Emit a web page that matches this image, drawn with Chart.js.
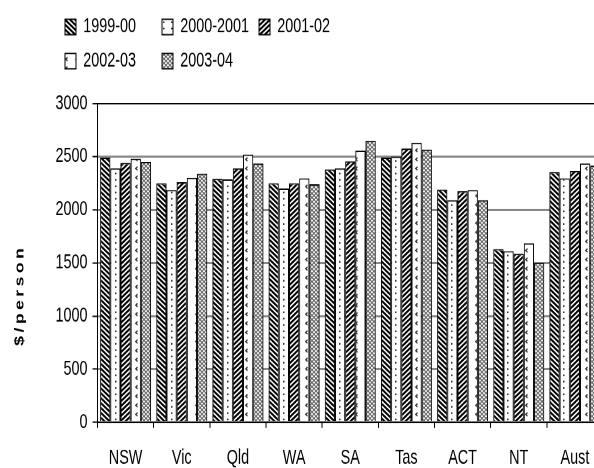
<!DOCTYPE html>
<html>
<head>
<meta charset="utf-8">
<script src="https://cdn.jsdelivr.net/npm/chart.js@4/dist/chart.umd.min.js"></script>
<style>
  html, body { margin: 0; padding: 0; overflow: hidden; background: #fff; }
</style>
</head>
<body>
<!-- the original picture is stretched vertically, so draw short and stretch -->
<canvas id="chart" width="604" height="334" style="width:604px;height:468px;display:block"></canvas>
<script>
// categories and series
const regions = ['NSW', 'Vic', 'Qld', 'WA', 'SA', 'Tas', 'ACT', 'NT', 'Aust'];
const seriesNames = ['1999-00', '2000-2001', '2001-02', '2002-03', '2003-04'];
const v1999 = [2490, 2250, 2290, 2250, 2380, 2490, 2190, 1630, 2355];
const v2000 = [2390, 2185, 2285, 2200, 2390, 2500, 2090, 1610, 2295];
const v2001 = [2440, 2260, 2390, 2250, 2455, 2575, 2175, 1585, 2365];
const v2002 = [2480, 2300, 2520, 2295, 2555, 2630, 2185, 1685, 2435];
const v2003 = [2450, 2340, 2435, 2240, 2650, 2565, 2090, 1500, 2415];
const yTicks = [0, 500, 1000, 1500, 2000, 2500, 3000];

const FONT = "'Liberation Sans', Arial, sans-serif";
const NBSP = '\u00a0';
const THIN = '\u2009';
const RES = 2;

// small tile -> repeating fill, painted at device resolution
function makePattern(w, h, paint) {
    const c = document.createElement('canvas');
    c.width = w * RES;
    c.height = h * RES;
    const g = c.getContext('2d');
    g.scale(RES, RES);
    g.fillStyle = '#fff';
    g.fillRect(0, 0, w, h);
    paint(g, w, h);
    const p = g.createPattern(c, 'repeat');
    p.setTransform(new DOMMatrix().scale(1 / RES));
    return p;
}

const backStripes = makePattern(5, 3.5, (g, w, h) => {
    g.strokeStyle = '#000';
    g.lineWidth = 1.6;
    for (const k of [-w, 0, w]) {
        g.beginPath(); g.moveTo(k - w, -h); g.lineTo(k + 2 * w, 2 * h); g.stroke();
    }
});
const dots = makePattern(8, 4.5, (g) => {
    g.fillStyle = '#222';
    g.fillRect(3, 1.8, 1.5, 1.1);
});
const fwdStripes = makePattern(5, 3.5, (g, w, h) => {
    g.strokeStyle = '#000';
    g.lineWidth = 1.6;
    for (const k of [-w, 0, w]) {
        g.beginPath(); g.moveTo(k - w, 2 * h); g.lineTo(k + 2 * w, -h); g.stroke();
    }
});
const chevrons = makePattern(10, 6.5, (g) => {
    g.strokeStyle = '#333';
    g.lineWidth = 1.1;
    g.beginPath(); g.moveTo(7.5, 2); g.lineTo(5.8, 3.2); g.lineTo(7.5, 4.4); g.stroke();
});
const hatch = makePattern(4, 3, (g, w, h) => {
    g.strokeStyle = '#666';
    g.lineWidth = 0.9;
    g.beginPath(); g.moveTo(0, 0); g.lineTo(w, h); g.moveTo(w, 0); g.lineTo(0, h); g.stroke();
});

const fills = [backStripes, dots, fwdStripes, chevrons, hatch];
const values = [v1999, v2000, v2001, v2002, v2003];
// first legend column is padded so the second column lines up like the original
const legendText = ['1999-00' + NBSP.repeat(4), '2000-2001', '2001-02', '2002-03' + NBSP.repeat(4), '2003-04'];

// legend in two rows starting at the left, with a gap under it
const legendLayout = {
    id: 'legendLayout',
    beforeInit(chart) {
        const legend = chart.legend;
        const fit = legend.fit;
        legend.fit = function () {
            const full = this.maxWidth;
            this.maxWidth = 350;
            fit.call(this);
            this.maxWidth = full;
            this.height += 13;
        };
    },
    afterLayout(chart) {
        chart.legend.left = 55;
        chart.legend.right = 380;
    }
};

// trailing spaces push the rotated title below the middle, as in the original
const yTitle = '$/person'.split('').join(THIN) + NBSP.repeat(14);

new Chart(document.getElementById('chart'), {
    type: 'bar',
    data: {
        labels: regions,
        datasets: seriesNames.map((name, i) => ({
            label: legendText[i],
            data: values[i],
            backgroundColor: fills[i],
            borderColor: '#000',
            borderWidth: 1,
            categoryPercentage: 0.907,
            barPercentage: 1
        }))
    },
    options: {
        responsive: false,
        animation: false,
        devicePixelRatio: 2,
        layout: { padding: { top: 2, left: 0, right: 1, bottom: 0 } },
        plugins: {
            legend: {
                position: 'top',
                align: 'start',
                labels: {
                    color: '#000',
                    font: { family: FONT, size: 14.4 },
                    boxWidth: 11,
                    boxHeight: 11,
                    padding: 10
                }
            },
            tooltip: { enabled: false }
        },
        scales: {
            x: {
                afterFit: (scale) => { scale.height = 32.6; },
                grid: {
                    drawOnChartArea: false,
                    tickLength: 4,
                    tickColor: '#000',
                    offset: true
                },
                border: { color: '#000', width: 1 },
                ticks: { color: '#000', padding: 13, font: { family: FONT, size: 14.4 } }
            },
            y: {
                min: 0,
                max: 3000,
                afterBuildTicks: (scale) => { scale.ticks = yTicks.map(v => ({ value: v })); },
                grid: {
                    color: (ctx) => (ctx.tick && ctx.tick.value === 3000 ? '#000' : '#888'),
                    lineWidth: (ctx) => (ctx.tick && ctx.tick.value === 3000 ? 1 : 1.5),
                    tickColor: '#000',
                    tickWidth: 1,
                    tickLength: 5
                },
                border: { color: '#000', width: 1 },
                ticks: {
                    color: '#000',
                    padding: 5,
                    font: { family: FONT, size: 14.4 },
                    callback: (v) => String(v)
                },
                title: {
                    display: true,
                    text: yTitle,
                    color: '#000',
                    font: { family: FONT, size: 12.5, weight: 'bold' },
                    padding: { top: 12.5, bottom: 23 }
                }
            }
        }
    },
    plugins: [legendLayout]
});
</script>
</body>
</html>
